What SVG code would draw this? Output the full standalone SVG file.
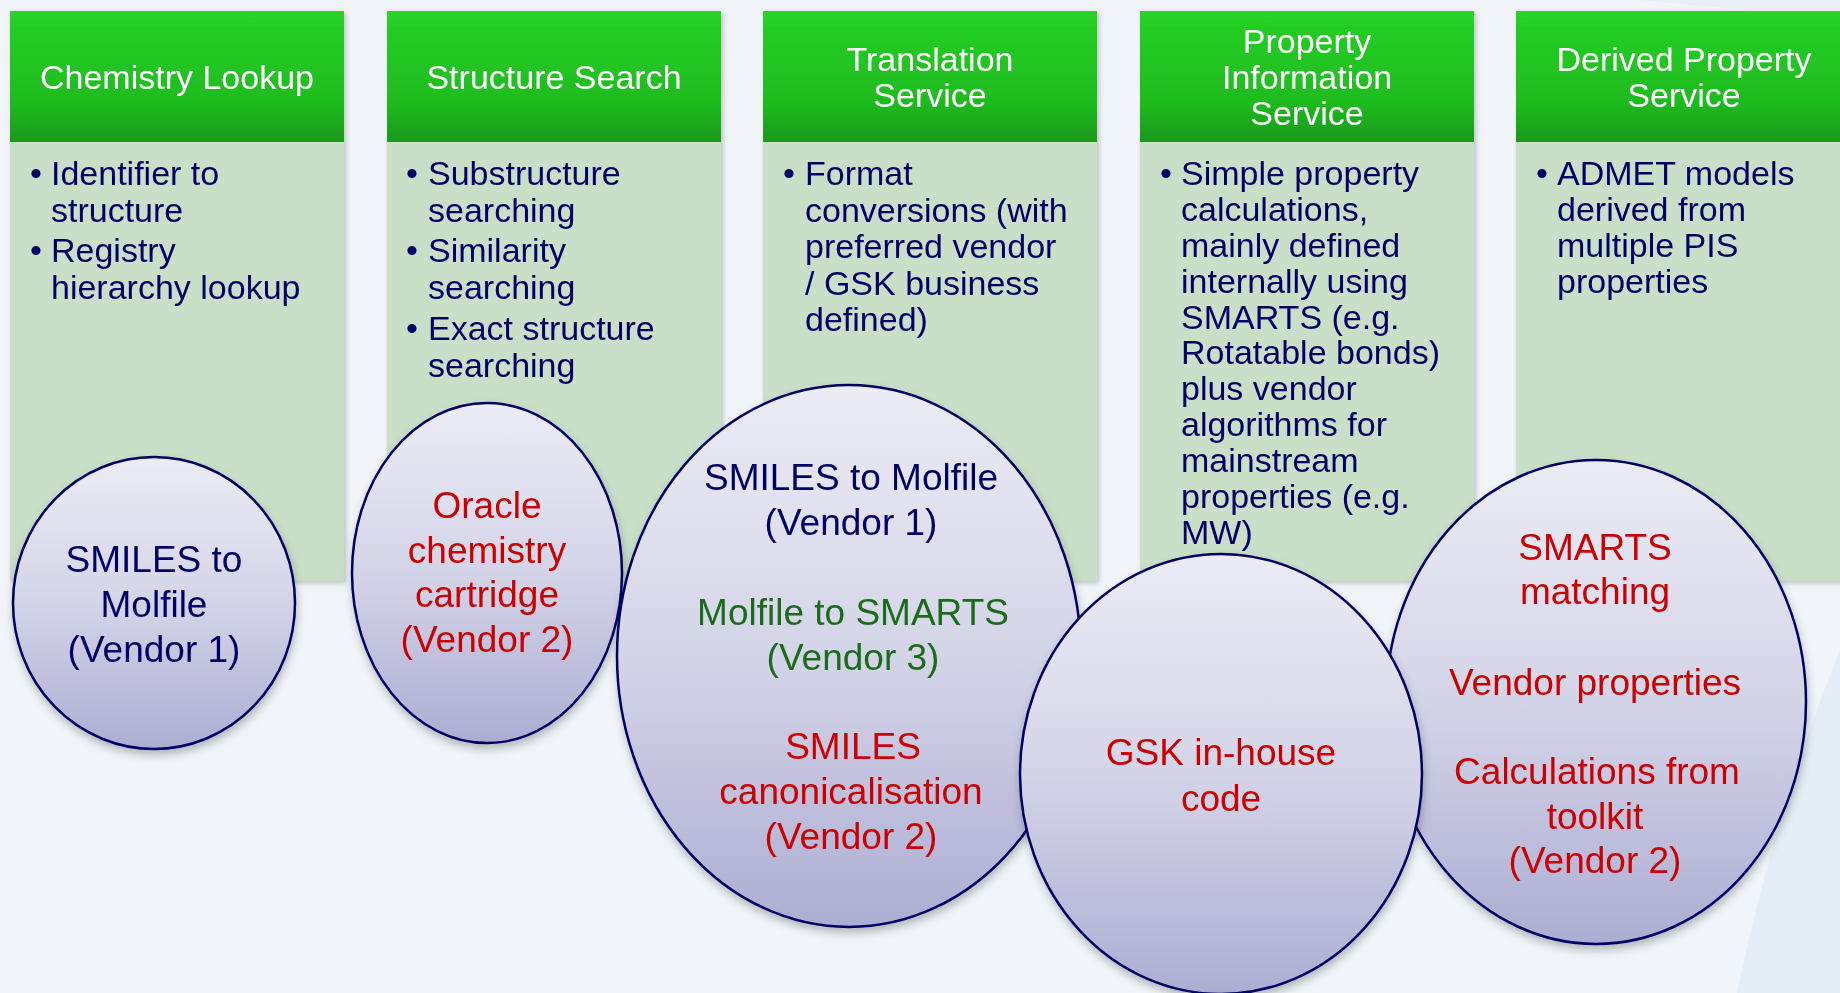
<svg xmlns="http://www.w3.org/2000/svg" width="1840" height="993" viewBox="0 0 1840 993">
<defs>
<style>
.hdr{fill:#ffffff;font-family:"Liberation Sans",Arial,sans-serif;font-size:34px;text-anchor:middle}
.body{fill:#000066;font-family:"Liberation Sans",Arial,sans-serif;font-size:34px}
.el{font-family:"Liberation Sans",Arial,sans-serif;font-size:37px;text-anchor:middle}
.navy{fill:#000066}
.red{fill:#cc0000}
.grn{fill:#1a6b1a}
.hbox{fill:url(#gHdr)}
.bbox{fill:#c9dfc8}
.ell{fill:url(#gEll);stroke:#000066;stroke-width:2.5}
</style>
<linearGradient id="gHdr" x1="0" y1="0" x2="0" y2="1">
<stop offset="0" stop-color="#2bd42b"/>
<stop offset="0.15" stop-color="#22cc22"/>
<stop offset="0.7" stop-color="#1fbb1f"/>
<stop offset="1" stop-color="#1a981a"/>
</linearGradient>
<linearGradient id="gEll" x1="0" y1="0" x2="0" y2="1">
<stop offset="0" stop-color="#ececf6"/>
<stop offset="0.5" stop-color="#d4d4e8"/>
<stop offset="1" stop-color="#adadd3"/>
</linearGradient>
<filter id="shCol" x="-5%" y="-5%" width="112%" height="112%">
<feDropShadow dx="2" dy="2" stdDeviation="2.5" flood-color="#000000" flood-opacity="0.22"/>
</filter>
<filter id="shEll" x="-10%" y="-10%" width="120%" height="125%">
<feDropShadow dx="1" dy="5" stdDeviation="4" flood-color="#000000" flood-opacity="0.25"/>
</filter>
</defs>
<rect width="1840" height="993" fill="#f1f5f9"/>
<path d="M1737,993 Q1775,810 1840,650 L1840,993 Z" fill="#e5eef6"/>
<path d="M1640,0 Q1700,6 1750,10 L1840,10 L1840,0 Z" fill="#e8f0f6"/>

<g id="col-chemistry-lookup" filter="url(#shCol)">
<rect class="bbox" x="10" y="142" width="334" height="439"/>
<rect class="hbox" x="10" y="11" width="334" height="131"/>
<text class="hdr" x="177" y="89">Chemistry Lookup</text>
<text class="body"><tspan x="30" y="185">•</tspan><tspan x="51" y="185">Identifier to</tspan><tspan x="51" y="221.5">structure</tspan><tspan x="30" y="262">•</tspan><tspan x="51" y="262">Registry</tspan><tspan x="51" y="298.5">hierarchy lookup</tspan></text>
</g>

<g id="col-structure-search" filter="url(#shCol)">
<rect class="bbox" x="387" y="142" width="334" height="439"/>
<rect class="hbox" x="387" y="11" width="334" height="131"/>
<text class="hdr" x="554" y="89">Structure Search</text>
<text class="body"><tspan x="406" y="185">•</tspan><tspan x="428" y="185">Substructure</tspan><tspan x="428" y="221.5">searching</tspan><tspan x="406" y="262">•</tspan><tspan x="428" y="262">Similarity</tspan><tspan x="428" y="298.5">searching</tspan><tspan x="406" y="340">•</tspan><tspan x="428" y="340">Exact structure</tspan><tspan x="428" y="376.5">searching</tspan></text>
</g>

<g id="col-translation-service" filter="url(#shCol)">
<rect class="bbox" x="763" y="142" width="334" height="439"/>
<rect class="hbox" x="763" y="11" width="334" height="131"/>
<text class="hdr"><tspan x="930" y="71">Translation</tspan><tspan x="930" y="107">Service</tspan></text>
<text class="body"><tspan x="783" y="185">•</tspan><tspan x="805" y="185">Format</tspan><tspan x="805" y="221.5">conversions (with</tspan><tspan x="805" y="258">preferred vendor</tspan><tspan x="805" y="294.5">/ GSK business</tspan><tspan x="805" y="331">defined)</tspan></text>
</g>

<g id="col-property-information-service" filter="url(#shCol)">
<rect class="bbox" x="1140" y="142" width="334" height="439"/>
<rect class="hbox" x="1140" y="11" width="334" height="131"/>
<text class="hdr"><tspan x="1307" y="53">Property</tspan><tspan x="1307" y="89">Information</tspan><tspan x="1307" y="125">Service</tspan></text>
<text class="body"><tspan x="1160" y="185">•</tspan><tspan x="1181" y="185">Simple property</tspan><tspan x="1181" y="221">calculations,</tspan><tspan x="1181" y="257">mainly defined</tspan><tspan x="1181" y="293">internally using</tspan><tspan x="1181" y="329">SMARTS (e.g.</tspan><tspan x="1181" y="364">Rotatable bonds)</tspan><tspan x="1181" y="400">plus vendor</tspan><tspan x="1181" y="436">algorithms for</tspan><tspan x="1181" y="472">mainstream</tspan><tspan x="1181" y="508">properties (e.g.</tspan><tspan x="1181" y="544">MW)</tspan></text>
</g>

<g id="col-derived-property-service" filter="url(#shCol)">
<rect class="bbox" x="1516" y="142" width="334" height="439"/>
<rect class="hbox" x="1516" y="11" width="334" height="131"/>
<text class="hdr"><tspan x="1684" y="71">Derived Property</tspan><tspan x="1684" y="107">Service</tspan></text>
<text class="body"><tspan x="1536" y="185">•</tspan><tspan x="1557" y="185">ADMET models</tspan><tspan x="1557" y="221">derived from</tspan><tspan x="1557" y="257">multiple PIS</tspan><tspan x="1557" y="293">properties</tspan></text>
</g>

<g id="connectors"></g>

<g id="ell-smiles-molfile" filter="url(#shEll)">
<ellipse class="ell" cx="154" cy="603" rx="141" ry="146"/>
<text class="el navy"><tspan x="154" y="572">SMILES to</tspan><tspan x="154" y="617">Molfile</tspan><tspan x="154" y="662">(Vendor 1)</tspan></text>
</g>

<g id="ell-oracle-cartridge" filter="url(#shEll)">
<ellipse class="ell" cx="487" cy="573" rx="135" ry="170"/>
<text class="el red"><tspan x="487" y="518">Oracle</tspan><tspan x="487" y="563">chemistry</tspan><tspan x="487" y="607">cartridge</tspan><tspan x="487" y="652">(Vendor 2)</tspan></text>
</g>

<g id="ell-translation" filter="url(#shEll)">
<ellipse class="ell" cx="849" cy="656" rx="232" ry="271"/>
<text class="el navy"><tspan x="851" y="490">SMILES to Molfile</tspan><tspan x="851" y="535">(Vendor 1)</tspan></text>
<text class="el grn"><tspan x="853" y="625">Molfile to SMARTS</tspan><tspan x="853" y="670">(Vendor 3)</tspan></text>
<text class="el red"><tspan x="853" y="759">SMILES</tspan><tspan x="851" y="804">canonicalisation</tspan><tspan x="851" y="849">(Vendor 2)</tspan></text>
</g>

<g id="ell-derived" filter="url(#shEll)">
<ellipse class="ell" cx="1596" cy="702" rx="210" ry="242"/>
<text class="el red"><tspan x="1595" y="560">SMARTS</tspan><tspan x="1595" y="604">matching</tspan><tspan x="1595" y="695">Vendor properties</tspan><tspan x="1597" y="784">Calculations from</tspan><tspan x="1595" y="829">toolkit</tspan><tspan x="1595" y="873">(Vendor 2)</tspan></text>
</g>

<g id="ell-gsk-inhouse" filter="url(#shEll)">
<ellipse class="ell" cx="1221" cy="774" rx="201" ry="220"/>
<text class="el red"><tspan x="1221" y="765">GSK in-house</tspan><tspan x="1221" y="811">code</tspan></text>
</g>
</svg>
